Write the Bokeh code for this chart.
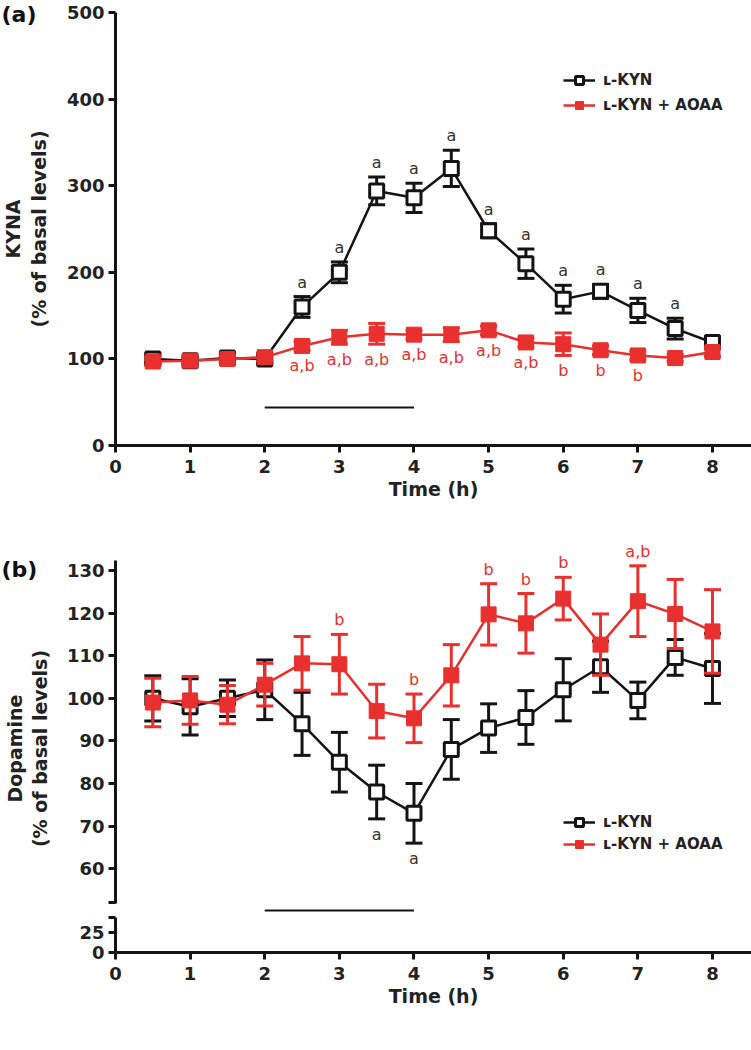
import math
from bokeh.plotting import figure
from bokeh.layouts import column
from bokeh.models import Legend, LegendItem, FixedTicker, Label, Range1d
from bokeh.core.properties import value
from bokeh.embed import file_html
from bokeh.resources import INLINE

# ---------------- data ----------------
time_h = [0.5, 1, 1.5, 2, 2.5, 3, 3.5, 4, 4.5, 5, 5.5, 6, 6.5, 7, 7.5, 8]

kyna_lkyn = [100, 98, 101, 100, 160, 200, 294, 286, 320, 248, 210, 169, 178, 156, 135, 119]
kyna_lkyn_err = [5, 4, 4, 5, 12, 12, 16, 17, 21, 8, 17, 16, 8, 14, 12, 6]
kyna_aoaa = [97, 98, 100, 102, 115, 125, 129, 128, 128, 133, 119, 117, 110, 104, 101, 108]
kyna_aoaa_err = [5, 4, 4, 4, 5, 8, 12, 5, 8, 5, 5, 13, 5, 5, 4, 5]
kyna_lkyn_sig = ["", "", "", "", "a", "a", "a", "a", "a", "a", "a", "a", "a", "a", "a", ""]
kyna_aoaa_sig = ["", "", "", "", "a,b", "a,b", "a,b", "a,b", "a,b", "a,b", "a,b", "b", "b", "b", "", ""]

dop_lkyn = [100, 98, 100, 102, 94, 85, 78, 73, 88, 93, 95.5, 102, 107.4, 99.5, 109.6, 107]
dop_lkyn_err = [5.3, 6.6, 4.3, 7, 7.4, 7, 6.3, 7, 7, 5.7, 6.3, 7.3, 6, 4.3, 4.2, 8.2]
dop_aoaa = [99, 99.5, 98.5, 103.2, 108.2, 108, 97, 95.3, 105.4, 119.7, 117.6, 123.4, 112.6, 122.8, 119.8, 115.7]
dop_aoaa_err = [5.7, 5.6, 4.5, 5, 6.3, 7, 6.3, 5.7, 7.2, 7.2, 7, 5, 7.2, 8.3, 8.1, 9.8]
dop_lkyn_sig = ["", "", "", "", "", "", "a", "a", "", "", "", "", "", "", "", ""]
dop_aoaa_sig = ["", "", "", "", "", "b", "", "b", "", "b", "b", "b", "", "a,b", "", ""]

kyna_ticks = [0, 100, 200, 300, 400, 500]
dop_ticks_upper = [60, 70, 80, 90, 100, 110, 120, 130]
dop_ticks_lower = [0, 25]
x_ticks = [0, 1, 2, 3, 4, 5, 6, 7, 8]

treatment = [2, 4]          # L-KYN infusion period (h)
series_names = ["\u029f-KYN", "\u029f-KYN + AOAA"]

# ---------------- style ----------------
BLACK = "#141414"
RED = "#e8302e"
FONT = "DejaVu Sans"
W = 751
X_START, X_END = -1.541, 8.523


def style_axes(p, has_x=True):
    for ax in p.axis:
        ax.axis_line_width = 3
        ax.axis_line_color = BLACK
        ax.major_tick_line_width = 3
        ax.major_tick_line_color = BLACK
        ax.major_tick_out = 7
        ax.major_tick_in = 0
        ax.minor_tick_line_color = None
        ax.major_label_text_font = FONT
        ax.major_label_text_font_style = "bold"
        ax.major_label_text_font_size = "18px"
        ax.major_label_text_color = "#222222"
        ax.major_label_standoff = 4
        ax.axis_label_text_font = FONT
        ax.axis_label_text_font_style = "bold"
        ax.axis_label_text_font_size = "19px"
        ax.axis_label_text_color = "#222222"
    if has_x:
        p.xaxis.bounds = (0, X_END)
        p.xaxis.fixed_location = 0
        p.xaxis.ticker = FixedTicker(ticks=x_ticks)
        p.xaxis.axis_label = "Time (h)"
        p.xaxis.major_label_standoff = 7
        p.xaxis.axis_label_standoff = 2
    p.yaxis.fixed_location = 0
    p.yaxis.axis_label_standoff = 14
    p.grid.visible = False
    p.outline_line_color = None
    p.background_fill_color = "white"
    p.border_fill_color = "white"


def draw_series(p, y, err, color, filled):
    lo = [v - e for v, e in zip(y, err)]
    hi = [v + e for v, e in zip(y, err)]
    p.segment(x0=time_h, y0=lo, x1=time_h, y1=hi, line_color=color, line_width=3)
    p.scatter(x=time_h, y=lo, marker="dash", size=17, line_color=color, line_width=3)
    p.scatter(x=time_h, y=hi, marker="dash", size=17, line_color=color, line_width=3)
    ln = p.line(x=time_h, y=y, line_color=color, line_width=2.5)
    if filled:
        sq = p.scatter(x=time_h, y=y, marker="square", size=15, fill_color=color,
                       line_color=color, line_width=1)
    else:
        sq = p.scatter(x=time_h, y=y, marker="square", size=14, fill_color="white",
                       line_color=color, line_width=3)
    return ln, sq, lo, hi


def sig_labels(p, y, labels, color, above):
    p.text(x=time_h, y=y, text=labels, text_font=value(FONT), text_font_size="16px",
           text_color=color, text_align="center",
           text_baseline="bottom" if above else "top",
           y_offset=-5 if above else 6)


def make_legend(p, r_black, r_red, x, y, spacing):
    leg = Legend(items=[LegendItem(label=series_names[0], renderers=list(r_black)),
                        LegendItem(label=series_names[1], renderers=list(r_red))],
                 location=(x, y), orientation="vertical",
                 glyph_width=32, glyph_height=20, label_height=20, spacing=spacing,
                 label_standoff=8, padding=0, margin=0,
                 border_line_color=None, background_fill_alpha=0,
                 label_text_font=FONT, label_text_font_style="bold",
                 label_text_font_size="15px", label_text_color="#222222")
    p.add_layout(leg, "center")


def panel_label(p, text, y):
    p.add_layout(Label(x=1, y=y, x_units="screen", y_units="screen", text=text,
                       text_font=FONT, text_font_style="bold", text_font_size="22px",
                       text_baseline="top", text_color="#111111"))


def vertical_title(p, text, x, y):
    p.add_layout(Label(x=x, y=y, x_units="screen", y_units="screen", text=text,
                       angle=math.pi / 2, text_align="center", text_baseline="middle",
                       text_font=FONT, text_font_style="bold", text_font_size="19px",
                       text_color="#222222"))


def new_fig(height, y0, y1, x_range, with_x):
    return figure(width=W, height=height, x_range=x_range, y_range=Range1d(y0, y1),
                  output_backend="svg", toolbar_location=None,
                  x_axis_location="below" if with_x else None,
                  min_border_left=0, min_border_right=0, min_border_top=0, min_border_bottom=0)


# ---------------- panel (a) ----------------
pa = new_fig(500, -63.5, 513.9, Range1d(X_START, X_END), True)
pa.yaxis.ticker = FixedTicker(ticks=kyna_ticks)
pa.yaxis.bounds = (0, 500)
pa.yaxis.axis_label = "KYNA\n(% of basal levels)"
style_axes(pa)

pa.line(x=treatment, y=[44, 44], line_color=BLACK, line_width=2)
rb = draw_series(pa, kyna_lkyn, kyna_lkyn_err, BLACK, False)
rr = draw_series(pa, kyna_aoaa, kyna_aoaa_err, RED, True)
sig_labels(pa, rb[3], kyna_lkyn_sig, "#333333", True)
sig_labels(pa, rr[2], kyna_aoaa_sig, RED, False)
make_legend(pa, rb[:2], rr[:2], 563, 385, 5)
panel_label(pa, "(a)", 499)

# ---------------- panel (b) upper part ----------------
xr_b = Range1d(X_START, X_END)
pbt = new_fig(406, 51.13, 146.43, xr_b, False)
pbt.yaxis.ticker = FixedTicker(ticks=[52] + dop_ticks_upper)
pbt.yaxis.major_label_overrides = {52: ""}
pbt.yaxis.bounds = (51.8, 132.3)
style_axes(pbt, has_x=False)
vertical_title(pbt, "Dopamine", 14, 158)
vertical_title(pbt, "(% of basal levels)", 39, 158)

qb = draw_series(pbt, dop_lkyn, dop_lkyn_err, BLACK, False)
qr = draw_series(pbt, dop_aoaa, dop_aoaa_err, RED, True)
sig_labels(pbt, qb[2], dop_lkyn_sig, "#333333", False)
sig_labels(pbt, qr[3], dop_aoaa_sig, RED, True)
make_legend(pbt, qb[:2], qr[:2], 563, 52, 2)
panel_label(pbt, "(b)", 350)

# ---------------- panel (b) lower (broken-axis) part ----------------
pbb = new_fig(104, -72.5, 57.5, xr_b, True)
pbb.yaxis.ticker = FixedTicker(ticks=dop_ticks_lower + [44])
pbb.yaxis.major_label_overrides = {44: ""}
pbb.yaxis.bounds = (0, 44)
style_axes(pbb)
pbb.line(x=treatment, y=[52.5, 52.5], line_color=BLACK, line_width=2)

layout = column(pa, pbt, pbb, spacing=0)
open("out.html", "w").write(file_html(layout, INLINE))
